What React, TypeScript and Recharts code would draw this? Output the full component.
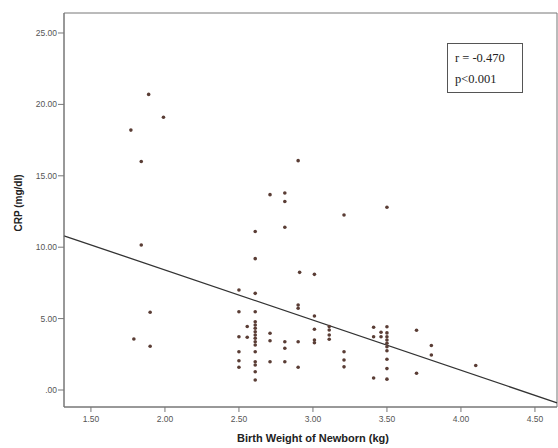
import React from 'react';
import { ScatterChart, Scatter, XAxis, YAxis, ReferenceLine, ReferenceArea, Label } from 'recharts';

const birthWeight = [
  1.77, 1.84, 1.89, 1.99, 1.84, 1.90, 1.79, 1.90,
  2.61, 2.61, 2.71, 2.81, 2.81, 2.81, 2.90, 2.91, 3.01, 3.21, 3.50,
  2.50, 2.50, 2.50, 2.50, 2.50, 2.50,
  2.556, 2.556,
  2.61, 2.61, 2.61, 2.61, 2.61, 2.61, 2.61, 2.61, 2.61, 2.61, 2.61, 2.61, 2.61, 2.61, 2.61,
  2.71, 2.71, 2.71,
  2.81, 2.81, 2.81,
  2.90, 2.90, 2.90, 2.90,
  3.01, 3.01, 3.01, 3.01,
  3.11, 3.11, 3.11, 3.11,
  3.21, 3.21, 3.21,
  3.41, 3.41, 3.41,
  3.46, 3.46,
  3.50, 3.50, 3.50, 3.50, 3.50, 3.50, 3.50, 3.50, 3.50, 3.50,
  3.70, 3.70,
  3.80, 3.80,
  4.10,
];
const crp = [
  18.2, 16.0, 20.7, 19.1, 10.15, 5.44, 3.57, 3.06,
  11.1, 9.2, 13.68, 13.8, 13.2, 11.4, 16.06, 8.24, 8.1, 12.25, 12.8,
  7.0, 5.48, 3.73, 2.68, 2.05, 1.59,
  4.45, 3.69,
  6.77, 5.48, 4.78, 4.55, 4.32, 4.08, 3.85, 3.62, 3.38, 3.15, 2.68, 1.98, 1.75, 1.28, 0.70,
  3.97, 3.45, 1.98,
  3.38, 2.92, 1.98,
  5.95, 5.72, 3.38, 1.59,
  5.18, 4.25, 3.5, 3.31,
  4.45, 4.2, 3.85, 3.55,
  2.68, 2.1, 1.62,
  4.39, 3.73, 0.84,
  4.04, 3.73,
  4.43, 4.0, 3.73, 3.5, 3.27, 3.03, 2.75, 2.15, 1.5, 0.76,
  4.18, 1.17,
  3.12, 2.45,
  1.72,
];
const xTicks = [1.5, 2.0, 2.5, 3.0, 3.5, 4.0, 4.5];
const yTicks = [0, 5, 10, 15, 20, 25];
const xDomain = [1.318, 4.649];
const yDomain = [-1.19, 26.4];
const fitX = [1.318, 4.649];
const fitY = [10.8, -0.9];
const statLines = ['r = -0.470', 'p<0.001'];

const points = birthWeight.map((x, i) => ({ x, y: crp[i] }));
const fitSegment = fitX.map((x, i) => ({ x, y: fitY[i] }));

const fmt = (v: number) => (v === 0 ? '.00' : v.toFixed(2));
const tickStyle = { fontSize: 8.5, fill: '#555', fontFamily: 'Liberation Sans, Arial, sans-serif' };

const Dot = (props: any) => <circle cx={props.cx} cy={props.cy} r={1.8} fill="#5a3d35" />;

export default function App() {
  return (
    <div style={{ position: 'absolute', left: 0, top: 0, width: 558, height: 448, background: '#fff' }}>
      <ScatterChart width={558} height={448} margin={{ top: 13, right: 1, bottom: 0, left: 14 }}>
        <XAxis
          type="number"
          dataKey="x"
          domain={xDomain}
          ticks={xTicks}
          tickFormatter={fmt}
          allowDataOverflow
          height={41}
          tickSize={5}
          tickMargin={4}
          stroke="#777"
          tick={tickStyle}
        >
          <Label
            content={() => (
              <text x={313} y={442} textAnchor="middle" fontSize={11} fontWeight="bold" fill="#222" fontFamily="Liberation Sans, Arial, sans-serif">
                Birth Weight of Newborn (kg)
              </text>
            )}
          />
        </XAxis>
        <YAxis
          type="number"
          dataKey="y"
          domain={yDomain}
          ticks={yTicks}
          tickFormatter={fmt}
          allowDataOverflow
          width={50}
          tickSize={6}
          tickMargin={1}
          stroke="#777"
          tick={tickStyle}
        >
          <Label
            content={() => (
              <text x={22} y={203} transform="rotate(-90 22 203)" textAnchor="middle" fontSize={10} fontWeight="bold" fill="#222" fontFamily="Liberation Sans, Arial, sans-serif">
                CRP (mg/dl)
              </text>
            )}
          />
        </YAxis>
        <ReferenceArea x1={xDomain[0]} x2={xDomain[1]} y1={yDomain[0]} y2={yDomain[1]} fill="none" stroke="#777" strokeWidth={1} />
        <ReferenceLine segment={fitSegment} stroke="#333" strokeWidth={1.3} ifOverflow="visible" />
        <Scatter data={points} shape={Dot} isAnimationActive={false} />
      </ScatterChart>
      <div
        style={{
          position: 'absolute',
          left: 447,
          top: 43,
          width: 76,
          height: 50,
          border: '1px solid #555',
          fontFamily: 'Liberation Serif, Times New Roman, serif',
          fontSize: 12.5,
          color: '#222',
          lineHeight: '21px',
          paddingTop: 4,
          paddingLeft: 7,
          boxSizing: 'border-box',
          background: '#fff',
          whiteSpace: 'nowrap',
        }}
      >
        {statLines.map((s) => (
          <div key={s}>{s}</div>
        ))}
      </div>
    </div>
  );
}
